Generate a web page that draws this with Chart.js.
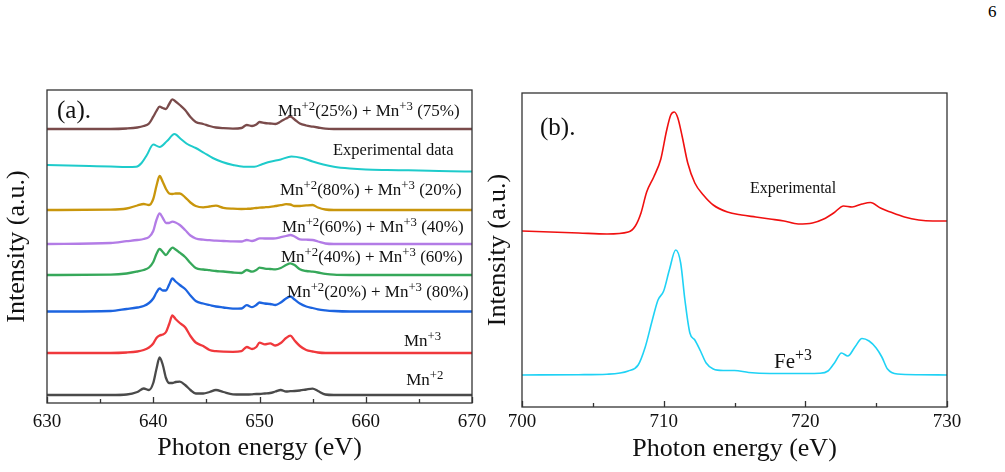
<!DOCTYPE html>
<html>
<head>
<meta charset="utf-8">
<script src="https://cdn.jsdelivr.net/npm/chart.js@4"></script>
<style>
  body { margin: 0; background: #fff; width: 1005px; height: 472px; position: relative; overflow: hidden; }
  #wrapA { position: absolute; left: 0; top: 0; width: 500px; height: 472px; }
  #wrapB { position: absolute; left: 476px; top: 0; width: 529px; height: 472px; }
  .pageNo { position: absolute; left: 988px; top: 2px; font: 17px "Liberation Serif", serif; color: #000; }
</style>
</head>
<body>
<div class="pageNo">6</div>
<div id="wrapA"><canvas id="chartA" width="500" height="472"></canvas></div>
<div id="wrapB"><canvas id="chartB" width="529" height="472"></canvas></div>
<script>
// ---- Panel (a): Mn L-edge spectra (stacked) ----
const mnEnergy = [630, 636, 637.5, 638.5, 639.1, 639.6, 640.0, 640.3, 640.6, 640.9, 641.2, 641.5, 641.8, 642.1, 642.5, 643.0, 643.5, 644.0, 644.7, 645.3, 645.9, 646.6, 647.5, 648.3, 648.8, 649.3, 649.7, 650.0, 650.5, 651.0, 651.5, 652.0, 652.5, 652.9, 653.3, 653.8, 654.4, 655.0, 655.5, 656.2, 657.0, 658.5, 661, 664, 667, 670];
const mn2 = [0, 0, 0.5, 3, 6.5, 5, 12, 26, 37.5, 30, 17, 12, 12, 13, 13.3, 10, 5, 1.5, 1.5, 3, 5, 3, 0.7, 0.5, 0.5, 0.7, 1, 1, 1.5, 2, 3.5, 5, 3.5, 3.8, 4, 4.5, 5.5, 6.3, 4, 0.5, 0, 0, 0, 0, 0, 0];
const mn3 = [0, 0, 0.5, 1.5, 3, 5.5, 9.5, 15, 17.5, 18.5, 21, 29, 37.5, 34, 30, 25.7, 17, 10.5, 7, 3, 1.8, 1.3, 1.2, 1.8, 6, 4, 6, 10.3, 8.7, 9.7, 7.5, 10, 15, 17.3, 12.5, 7, 3, 1.5, 0.5, 0, 0, 0, 0, 0, 0, 0];
const mix20_80 = [0, 0.5, 2.5, 4, 5.5, 8.5, 13, 19, 23, 21, 21, 27, 33, 30, 26.5, 22.5, 16, 10.5, 8, 6.5, 5, 4, 2.8, 3, 6.3, 4.3, 6.5, 9, 8, 7.5, 6.5, 9, 13, 15, 12, 8, 5, 3.5, 2.2, 1.2, 0.5, 0, 0, 0, 0, 0];
const mix40_60 = [0, 0.3, 1.5, 3.5, 5, 7.5, 13, 21, 26, 23, 20, 24, 27.3, 25.5, 22.3, 18, 12, 7, 5.5, 4.8, 4, 3.5, 2.5, 2, 5, 3.3, 5, 7.3, 6.3, 6, 5.7, 7, 10, 11.7, 10, 5.7, 4, 3.3, 2.5, 1.2, 0.3, 0, 0, 0, 0, 0];
const mix60_40 = [0, 1, 2.8, 4, 5, 7, 13, 24, 30.5, 26, 21, 21, 22.3, 21.5, 19, 14, 8.5, 5.5, 4.3, 3.8, 3.3, 3, 2.6, 2.5, 4, 3, 4.3, 5.7, 5.5, 5.5, 5.7, 6.8, 8, 9, 7.5, 4.7, 4.3, 4, 2.5, 0.5, 0, 0, 0, 0, 0, 0];
const mix80_20 = [0, 0.3, 1.5, 4.5, 6, 5, 11, 24, 34, 28, 21, 16.5, 16, 16.5, 16.5, 12.7, 7.5, 4, 2.7, 3.5, 4.3, 2.2, 1.3, 1, 1.2, 1.5, 2, 2.3, 2.7, 3.2, 4, 4.8, 5.8, 5.5, 4, 4, 4.6, 5, 2.5, 0.5, 0, 0, 0, 0, 0, 0];
const mix25_75 = [0, 0, 0.5, 1.5, 3, 5.5, 12.3, 18, 22.3, 21, 20, 25, 29.7, 27.5, 24, 19, 12, 7, 5, 3, 1.5, 0.8, 0.4, 1, 4, 3, 4.5, 7, 6, 5.5, 5, 7.5, 10.5, 12.3, 9.5, 5.5, 3.5, 2.4, 1.5, 0.3, 0, 0, 0, 0, 0, 0];

// experimental Mn spectrum has its own energy grid
const mnExpEnergy = [630, 632, 634, 636, 637.5, 638.4, 638.9, 639.4, 640.0, 640.6, 641.3, 642.0, 642.6, 643.2, 644.0, 644.8, 645.6, 646.5, 647.5, 648.5, 649.5, 650.3, 651.0, 652.0, 653.0, 654.0, 655.0, 656.0, 657.0, 658.5, 660, 662, 664, 666, 668, 670];
const mnExp = [7, 6.5, 6, 5.5, 5, 5.3, 9, 17, 27.5, 25, 31, 38, 33, 28, 24, 19, 14, 10, 7, 5.3, 5.3, 8, 10.3, 12.5, 15.5, 14, 10.5, 7.5, 5.3, 3.5, 2.5, 2, 1.7, 1.3, 0.8, 0.5];

// vertical offsets of the stacked curves (bottom to top)
const stackA = [8, 50, 91.5, 128, 159, 193, 231, 274];

// ---- Panel (b): Fe L-edge ----
const feExpEnergy = [700, 702, 704, 706, 707.5, 708.0, 708.4, 708.8, 709.3, 709.8, 710.2, 710.5, 710.75, 711.0, 711.3, 711.7, 712.2, 712.8, 713.5, 714.5, 715.5, 716.5, 717.5, 718.5, 719.5, 720.5, 721.3, 722.0, 722.7, 723.3, 724.0, 724.6, 725.3, 726.0, 727.0, 728.0, 729.0, 730];
const feExp = [0, -1, -2, -3, -1, 5, 18, 39, 54, 72, 100, 116, 119, 113, 95, 68, 48, 36, 26, 19, 16, 14, 12, 10, 7, 8, 12, 18, 25, 24, 27, 28.5, 23, 19, 14, 11, 10, 10];
const fe3Energy = [700, 704, 706, 707.5, 708.2, 708.7, 709.2, 709.6, 710.0, 710.4, 710.85, 711.2, 711.5, 711.85, 712.2, 712.6, 713.0, 713.5, 714.2, 715.0, 716.0, 717.5, 719, 721.0, 721.6, 722.1, 722.55, 723.0, 723.5, 724.0, 724.5, 725.0, 725.4, 725.8, 726.5, 728, 730];
const fe3 = [0, 0.3, 0.8, 4, 10, 28, 55, 75, 84, 105, 125, 112, 75, 42, 35, 24, 12, 6, 4.5, 4.5, 2.5, 1.5, 1.5, 1.8, 4, 13, 22, 19, 28, 36.5, 34, 27, 18, 6, 1, 0.3, 0];
const stackB = [32, 176];

const serif = '"Liberation Serif", "Times New Roman", serif';

function pts(xs, ys, off) {
    return xs.map((x, i) => ({ x: x, y: ys[i] + off }));
}

function line(label, xs, ys, off, color, width) {
    return {
        label: label,
        data: pts(xs, ys, off),
        borderColor: color,
        borderWidth: width,
        pointRadius: 0,
        fill: false,
        cubicInterpolationMode: 'monotone'
    };
}

// text with ^{...} superscripts
function drawRich(ctx, text, x, y, size) {
    const parts = text.split(/\^\{([^}]*)\}/);
    let cx = x;
    parts.forEach((p, i) => {
        if (!p) return;
        const sup = i % 2 === 1;
        ctx.font = (sup ? size * 0.75 : size) + 'px ' + serif;
        ctx.fillText(p, cx, sup ? y - size * 0.38 : y);
        cx += ctx.measureText(p).width;
    });
}

// frame, inward ticks and curve labels
const framePlugin = {
    id: 'frame',
    afterDatasetsDraw(chart, args, opts) {
        const { ctx, chartArea: a, scales: { x, y } } = chart;
        ctx.save();
        ctx.strokeStyle = '#333';
        ctx.lineWidth = 1.3;
        ctx.strokeRect(a.left, a.top, a.right - a.left, a.bottom - a.top);
        for (let v = x.min; v <= x.max + 1e-9; v += opts.minorStep) {
            const px = Math.round(x.getPixelForValue(v)) + 0.5;
            const major = Math.abs(v % opts.majorStep) < 1e-6;
            ctx.beginPath();
            ctx.moveTo(px, a.bottom);
            ctx.lineTo(px, a.bottom - (major ? 6 : 4));
            ctx.stroke();
        }
        ctx.fillStyle = '#111';
        ctx.textAlign = 'left';
        ctx.textBaseline = 'alphabetic';
        opts.labels.forEach(l => {
            drawRich(ctx, l.text, x.getPixelForValue(l.x), y.getPixelForValue(l.y), l.size);
        });
        ctx.restore();
    }
};

function makeOptions(xMin, xMax, yMax, layout, labels) {
    return {
        responsive: false,
        animation: false,
        layout: { padding: layout.padding },
        plugins: {
            legend: { display: false },
            tooltip: { enabled: false },
            frame: { minorStep: 5, majorStep: 10, labels: labels }
        },
        scales: {
            x: {
                type: 'linear', min: xMin, max: xMax,
                grid: { display: false }, border: { display: false },
                ticks: { stepSize: 10, color: '#111', padding: layout.tickPad, font: { family: serif, size: 19 } },
                title: { display: true, text: 'Photon energy (eV)', color: '#111', font: { family: serif, size: 26 }, padding: { top: 0, bottom: layout.xTitlePad } },
                afterFit: s => { s.height = layout.xHeight; s.paddingLeft = 0; s.paddingRight = 0; }
            },
            y: {
                min: 0, max: yMax,
                grid: { display: false }, border: { display: false },
                ticks: { display: false },
                title: { display: true, text: 'Intensity (a.u.)', color: '#111', font: { family: serif, size: 26 }, padding: { top: layout.yTitlePad, bottom: 0 } },
                afterFit: s => { s.width = layout.yWidth; s.paddingTop = 0; s.paddingBottom = 0; }
            }
        }
    };
}

const labelsA = [
    { text: '(a).', x: 630.94, y: 285, size: 25 },
    { text: 'Mn^{+2}(25%) + Mn^{+3} (75%)', x: 651.74, y: 287, size: 17 },
    { text: 'Experimental data', x: 656.92, y: 248, size: 16.5 },
    { text: 'Mn^{+2}(80%) + Mn^{+3} (20%)', x: 651.93, y: 208, size: 17 },
    { text: 'Mn^{+2}(60%) + Mn^{+3} (40%)', x: 652.12, y: 171, size: 17 },
    { text: 'Mn^{+2}(40%) + Mn^{+3} (60%)', x: 652.02, y: 141, size: 17 },
    { text: 'Mn^{+2}(20%) + Mn^{+3} (80%)', x: 652.59, y: 106, size: 17 },
    { text: 'Mn^{+3}', x: 663.6, y: 57, size: 17 },
    { text: 'Mn^{+2}', x: 663.8, y: 18, size: 17 }
];

new Chart(document.getElementById('chartA'), {
    type: 'line',
    data: {
        datasets: [
            line('Mn+2', mnEnergy, mn2, stackA[0], '#4a4a4a', 2.3),
            line('Mn+3', mnEnergy, mn3, stackA[1], '#f0383c', 2.3),
            line('Mn+2(20%) + Mn+3 (80%)', mnEnergy, mix20_80, stackA[2], '#1c64e0', 2.3),
            line('Mn+2(40%) + Mn+3 (60%)', mnEnergy, mix40_60, stackA[3], '#36a85a', 2.3),
            line('Mn+2(60%) + Mn+3 (40%)', mnEnergy, mix60_40, stackA[4], '#b37ce6', 2.3),
            line('Mn+2(80%) + Mn+3 (20%)', mnEnergy, mix80_20, stackA[5], '#c9960c', 2.3),
            line('Experimental data', mnExpEnergy, mnExp, stackA[6], '#1ecbcb', 2),
            line('Mn+2(25%) + Mn+3 (75%)', mnEnergy, mix25_75, stackA[7], '#7a4b4b', 2.3)
        ]
    },
    options: makeOptions(630, 670, 313,
        { padding: { top: 90, right: 28, left: 0, bottom: 0 }, xHeight: 69, yWidth: 47, tickPad: 0, xTitlePad: 8, yTitlePad: 2 },
        labelsA),
    plugins: [framePlugin]
});

const labelsB = [
    { text: '(b).', x: 701.27, y: 272, size: 25 },
    { text: 'Experimental', x: 716.09, y: 214, size: 16 },
    { text: 'Fe^{+3}', x: 717.79, y: 39, size: 21 }
];

new Chart(document.getElementById('chartB'), {
    type: 'line',
    data: {
        datasets: [
            line('Fe+3', fe3Energy, fe3, stackB[0], '#1fd2f5', 1.6),
            line('Experimental', feExpEnergy, feExp, stackB[1], '#f01010', 1.6)
        ]
    },
    options: makeOptions(700, 730, 314,
        { padding: { top: 93, right: 58, left: 0, bottom: 0 }, xHeight: 65, yWidth: 46, tickPad: -4, xTitlePad: 7, yTitlePad: 7 },
        labelsB),
    plugins: [framePlugin]
});
</script>
</body>
</html>
